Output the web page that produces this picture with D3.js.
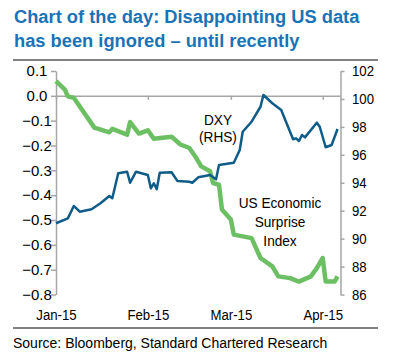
<html>
<body style="margin:0;background:#fff">
<div id="chart"></div>
<script src="https://d3js.org/d3.v7.min.js"></script>
<script>

var blue = "#0f5c88"
var green = "#6cbf62"
var titleBlue = "#1a73b6"
var grey = "#a6a6a6"
var ruleGrey = "#808080"

var titleLines = ["Chart of the day: Disappointing US data", "has been ignored \u2013 until recently"]
var sourceText = "Source: Bloomberg, Standard Chartered Research"

var monthDates = ["2015-01-01", "2015-02-01", "2015-03-01", "2015-04-01"]
var monthLabels = ["Jan-15", "Feb-15", "Mar-15", "Apr-15"]
var leftTicks = [0.1, 0.0, -0.1, -0.2, -0.3, -0.4, -0.5, -0.6, -0.7, -0.8]
var rightTicks = [102, 100, 98, 96, 94, 92, 90, 88, 86]

// US Economic Surprise Index (LHS)
var esiDates = ["2015-01-01", "2015-01-04", "2015-01-05", "2015-01-07", "2015-01-14", "2015-01-15",
  "2015-01-19", "2015-01-20", "2015-01-25", "2015-01-26", "2015-01-29", "2015-02-01", "2015-02-03",
  "2015-02-09", "2015-02-12", "2015-02-15", "2015-02-17", "2015-02-19", "2015-02-22", "2015-02-23",
  "2015-02-25", "2015-02-26", "2015-03-01", "2015-03-02", "2015-03-08", "2015-03-11", "2015-03-15",
  "2015-03-17", "2015-03-21", "2015-03-24", "2015-03-28", "2015-03-30", "2015-04-01", "2015-04-02",
  "2015-04-05", "2015-04-06"]
var esiValues = [0.059, 0.025, -0.002, -0.008, -0.129, -0.132,
  -0.147, -0.133, -0.156, -0.106, -0.152, -0.139, -0.173,
  -0.165, -0.196, -0.21, -0.244, -0.284, -0.304, -0.351,
  -0.358, -0.458, -0.498, -0.559, -0.573, -0.653, -0.687,
  -0.727, -0.734, -0.748, -0.727, -0.694, -0.653, -0.748,
  -0.748, -0.727]

// DXY (RHS)
var dxyDates = ["2015-01-01", "2015-01-05", "2015-01-07", "2015-01-09", "2015-01-13", "2015-01-16",
  "2015-01-19", "2015-01-20", "2015-01-22", "2015-01-25", "2015-01-26", "2015-01-28", "2015-02-01",
  "2015-02-02", "2015-02-03", "2015-02-04", "2015-02-05", "2015-02-09", "2015-02-11", "2015-02-15",
  "2015-02-16", "2015-02-18", "2015-02-22", "2015-02-24", "2015-02-25", "2015-03-02", "2015-03-04",
  "2015-03-05", "2015-03-08", "2015-03-11", "2015-03-12", "2015-03-15", "2015-03-18", "2015-03-22",
  "2015-03-23", "2015-03-24", "2015-03-25", "2015-03-26", "2015-03-30", "2015-03-31", "2015-04-02",
  "2015-04-04", "2015-04-06"]
var dxyValues = [91.10, 91.45, 92.34, 91.93, 92.10, 92.53,
  93.05, 92.89, 94.68, 94.79, 94.00, 94.79, 94.55,
  93.60, 93.96, 93.53, 94.72, 94.75, 94.12, 94.07,
  94.00, 94.39, 94.55, 94.25, 95.27, 95.43, 96.34,
  97.65, 98.37, 99.44, 100.28, 99.69, 99.21, 97.11,
  97.18, 96.99, 97.42, 97.25, 98.30, 98.01, 96.54,
  96.70, 97.85]

var parse = d3.timeParse("%Y-%m-%d")
var esi = esiDates.map((d, i) => ({date: parse(d), v: esiValues[i]}))
var dxy = dxyDates.map((d, i) => ({date: parse(d), v: dxyValues[i]}))

var W = 397, H = 361
var K = 0.88   // the source art has narrow-looking text

var svg = d3.select("#chart")
  .append("svg")
  .attr("width", W)
  .attr("height", H)
  .style("font-family", "Arial, 'Liberation Sans', sans-serif")

// title
svg.selectAll(".title")
  .data(titleLines)
  .enter().append("text")
  .attr("class", "title")
  .attr("x", 14)
  .attr("y", (d, i) => 23 + i * 24)
  .attr("fill", titleBlue)
  .style("font-size", "18.3px")
  .style("font-weight", "bold")
  .text(d => d)

// rules
svg.append("line").attr("x1", 13).attr("x2", 378).attr("y1", 60).attr("y2", 60)
  .attr("stroke", ruleGrey).attr("stroke-width", 2)
svg.append("line").attr("x1", 13).attr("x2", 378).attr("y1", 328).attr("y2", 328)
  .attr("stroke", ruleGrey).attr("stroke-width", 2)

svg.append("text")
  .attr("x", 13)
  .attr("y", 348)
  .style("font-size", "14px")
  .attr("fill", "#000")
  .text(sourceText)

var x = d3.scaleTime()
  .domain([parse("2015-01-01"), parse("2015-04-07")])
  .range([56, 340.5])

var yL = d3.scaleLinear().domain([-0.8, 0.1]).range([294.5, 71])
var yR = d3.scaleLinear().domain([86, 102]).range([294.5, 71])

function styleAxis(g) {
  g.selectAll("path, line").attr("stroke", grey).attr("stroke-width", 1.5)
  g.selectAll("text").attr("fill", "#000").style("font-size", "15px").style("font-family", "Arial, 'Liberation Sans', sans-serif")
}

// left axis
var gL = svg.append("g")
  .attr("transform", "translate(" + x.range()[0] + ",0)")
  .call(d3.axisLeft(yL).tickValues(leftTicks).tickSize(5).tickSizeOuter(0)
    .tickFormat(d => d.toFixed(1).replace("-", "\u2212")))
styleAxis(gL)
gL.selectAll("text").attr("x", -19).attr("text-anchor", "middle")

// right axis
var gR = svg.append("g")
  .attr("transform", "translate(" + x.range()[1] + ",0)")
  .call(d3.axisRight(yR).tickValues(rightTicks).tickSize(4).tickSizeOuter(0))
styleAxis(gR)
gR.selectAll("text").attr("x", 11.5 / K).attr("transform", "scale(" + K + ",1)")

// zero line with month ticks
var gX = svg.append("g")
  .attr("transform", "translate(0," + yL(0) + ")")
  .call(d3.axisBottom(x).tickValues(monthDates.map(parse)).tickSize(4).tickSizeOuter(0)
    .tickFormat(""))
styleAxis(gX)

// month labels
var gXL = svg.append("g")
  .attr("transform", "translate(0," + yL(-0.8) + ")")
  .call(d3.axisBottom(x).tickValues(monthDates.map(parse)).tickSize(0).tickPadding(15)
    .tickFormat((d, i) => monthLabels[i]))
gXL.select(".domain").remove()
styleAxis(gXL)
gXL.selectAll("text").attr("transform", "scale(" + K + ",1)")

// series
var lineL = d3.line().x(d => x(d.date)).y(d => yL(d.v))
var lineR = d3.line().x(d => x(d.date)).y(d => yR(d.v))

svg.append("path")
  .datum(esi)
  .attr("d", lineL)
  .attr("fill", "none")
  .attr("stroke", green)
  .attr("stroke-width", 4.5)
  .attr("stroke-linejoin", "round")

svg.append("path")
  .datum(dxy)
  .attr("d", lineR)
  .attr("fill", "none")
  .attr("stroke", blue)
  .attr("stroke-width", 2.5)
  .attr("stroke-linejoin", "round")

// annotations
function label(lines, cx, y0, step) {
  var g = svg.append("g").attr("transform", "translate(" + cx + "," + y0 + ") scale(" + K + ",1)")
  g.selectAll("text")
    .data(lines)
    .enter().append("text")
    .attr("y", (d, i) => i * step)
    .attr("text-anchor", "middle")
    .style("font-size", "15.5px")
    .attr("fill", "#000")
    .text(d => d)
}
label(["DXY", "(RHS)"], 218, 125, 17.5)
label(["US Economic", "Surprise", "Index"], 280, 208, 19)

</script>
</body>
</html>
